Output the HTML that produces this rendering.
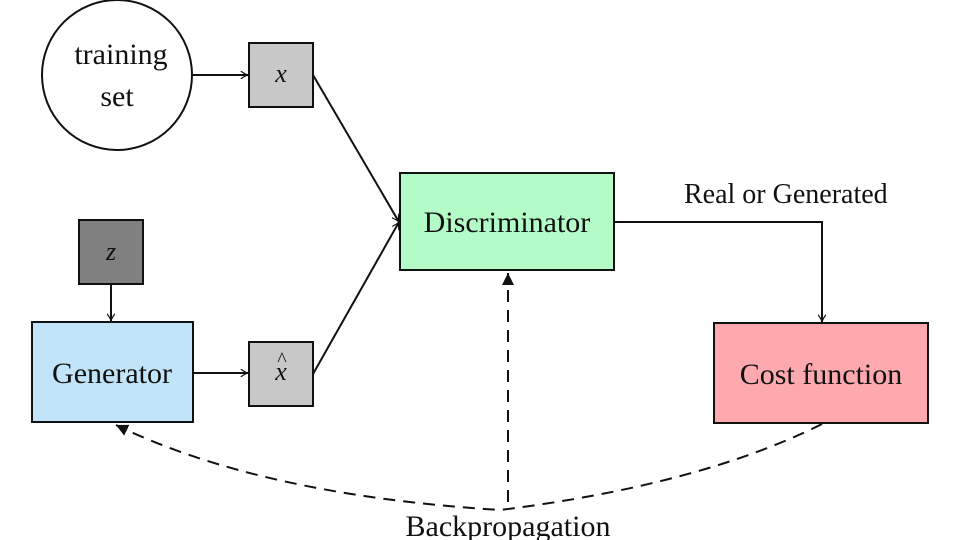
<!DOCTYPE html>
<html><head><style>
body{margin:0;background:#fff;width:960px;height:540px;overflow:hidden}
svg{display:block}
text{font-family:"Liberation Serif",serif;fill:#111}
</style></head><body>
<svg width="960" height="540" viewBox="0 0 960 540">
<defs>
<marker id="a" viewBox="0 0 10 10" refX="10" refY="5" markerWidth="8" markerHeight="8" orient="auto" markerUnits="userSpaceOnUse"><path d="M1,0 Q6,4 10,5 Q6,6 1,10" fill="none" stroke="#111" stroke-width="1.5"/></marker>
<marker id="b" viewBox="0 0 10 10" refX="10" refY="5" markerWidth="12" markerHeight="12" orient="auto" markerUnits="userSpaceOnUse"><path d="M0,0 L10,5 L0,10 Z" fill="#111"/></marker>
</defs>
<g stroke="#111" stroke-width="2" fill="none">
<circle cx="117" cy="75" r="75" fill="#fff"/>
<rect x="249" y="43" width="64" height="64" fill="#c8c8c8"/>
<rect x="79" y="220" width="64" height="64" fill="#808080"/>
<rect x="32" y="322" width="161" height="100" fill="#c2e4f8"/>
<rect x="249" y="342" width="64" height="64" fill="#c8c8c8"/>
<rect x="400" y="173" width="214" height="97" fill="#b3fcc8"/>
<rect x="714" y="323" width="214" height="100" fill="#fda9ae"/>
<line x1="193" y1="75" x2="248" y2="75" marker-end="url(#a)"/>
<line x1="111" y1="284" x2="111" y2="321" marker-end="url(#a)"/>
<line x1="193" y1="373" x2="248" y2="373" marker-end="url(#a)"/>
<line x1="313" y1="75" x2="399" y2="222" marker-end="url(#a)"/>
<line x1="313" y1="374" x2="399" y2="222" marker-end="url(#a)"/>
<polyline points="614,222 822,222 822,322" marker-end="url(#a)"/>
<g stroke-dasharray="12,8">
<line x1="508" y1="502" x2="508" y2="273" marker-end="url(#b)"/>
<path d="M822,424 Q700,485 500,510 Q260,495 116,425" marker-end="url(#b)"/>
</g>
</g>
<text x="121" y="64" font-size="30" text-anchor="middle">training</text>
<text x="117" y="106" font-size="30" text-anchor="middle">set</text>
<text x="281" y="82" font-size="26" font-style="italic" text-anchor="middle">x</text>
<text x="111" y="260" font-size="26" font-style="italic" text-anchor="middle">z</text>
<text x="281" y="380" font-size="26" font-style="italic" text-anchor="middle">x</text>
<text x="282" y="366" font-size="20" text-anchor="middle">^</text>
<text x="112" y="383" font-size="30" text-anchor="middle">Generator</text>
<text x="507" y="232" font-size="30" text-anchor="middle">Discriminator</text>
<text x="821" y="384" font-size="30" text-anchor="middle">Cost function</text>
<text x="684" y="203" font-size="28">Real or Generated</text>
<text x="508" y="536" font-size="30" text-anchor="middle">Backpropagation</text>
</svg>
</body></html>
